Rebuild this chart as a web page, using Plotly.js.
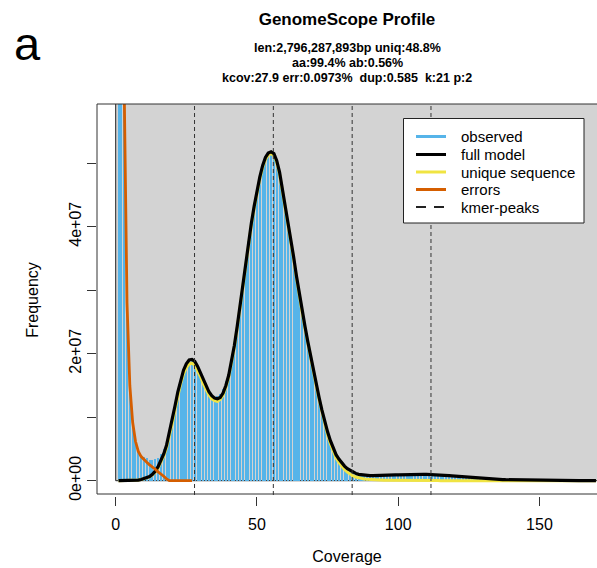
<!DOCTYPE html>
<html>
<head>
<meta charset="utf-8">
<script src="https://cdn.plot.ly/plotly-3.0.1.min.js"></script>
<style>html,body{margin:0;padding:0;background:#fff;}#chart{width:597px;height:568px;}</style>
</head>
<body>
<div id="chart"></div>
<script>
// ---------------- data (frequencies in millions of k-mers) ----------------
const coverage = [1,2,3,4,5,6,7,8,9,10,11,12,13,14,15,16,17,18,19,20,
21,22,23,24,25,26,27,28,29,30,31,32,33,34,35,36,37,38,39,40,
41,42,43,44,45,46,47,48,49,50,51,52,53,54,55,56,57,58,59,60,
61,62,63,64,65,66,67,68,69,70,71,72,73,74,75,76,77,78,79,80,
81,82,83,84,85,86,87,88,89,90,91,92,93,94,95,96,97,98,99,100,
101,102,103,104,105,106,107,108,109,110,111,112,113,114,115,116,117,118,119,120,
121,122,123,124,125,126,127,128,129,130,131,132,133,134,135,136,137,138,139,140,
141,142,143,144,145,146,147,148,149,150,151,152,153,154,155,156,157,158,159,160,
161,162,163,164,165,166,167,168,169,170];

const observed = [2000,220,66,29,15.5,9.5,6.5,4.9,4.1,3.7,3.5,3.2,3.3,3.4,3.6,4.2,5.0,6.0,7.6,9.6,
11.7,13.9,15.8,17.3,18.3,18.9,19.0,18.7,17.9,16.9,15.8,14.8,14.1,13.5,13.2,13.3,13.6,14.4,15.7,17.5,
19.4,21.7,24.4,27.5,30.9,34.3,37.7,40.7,43.3,45.8,47.9,49.7,50.9,51.6,51.8,51.4,50.4,48.7,46.1,43.4,
40.8,38.0,35.3,32.2,29.4,26.8,24.2,21.8,19.5,17.3,15.1,13.0,11.1,9.3,7.7,6.3,5.1,4.2,3.4,2.8,
2.3,1.9,1.6,1.35,1.15,1.0,0.92,0.86,0.82,0.80,0.79,0.79,0.80,0.81,0.83,0.85,0.87,0.89,0.91,0.93,
0.95,0.96,0.97,0.98,0.99,1.0,1.0,1.0,1.0,1.0,0.99,0.98,0.96,0.94,0.91,0.88,0.85,0.81,0.77,0.73,
0.69,0.65,0.61,0.57,0.53,0.49,0.45,0.42,0.38,0.35,0.32,0.29,0.27,0.24,0.22,0.20,0.18,0.16,0.15,0.13,
0.12,0.11,0.10,0.09,0.08,0.07,0.065,0.06,0.055,0.05,0.048,0.046,0.044,0.042,0.04,0.038,0.036,0.034,0.032,0.03,
0.029,0.028,0.027,0.026,0.025,0.024,0.023,0.022,0.021,0.02];

const fullModel = [0,0,0,0,0.01,0.02,0.05,0.1,0.18,0.3,0.45,0.65,1.0,1.5,2.2,3.1,4.2,5.6,7.5,9.6,
11.8,14.0,15.9,17.4,18.4,19.0,19.1,18.8,18.0,17.0,15.9,14.9,14.0,13.4,13.0,12.9,13.1,13.8,15.0,16.6,
18.7,21.3,24.3,27.6,31.0,34.5,37.8,40.5,43.2,45.6,47.8,49.6,50.9,51.6,51.8,51.5,50.4,48.6,46.0,43.4,
40.8,38.0,35.2,32.2,29.3,26.8,24.3,21.9,19.6,17.4,15.2,13.1,11.1,9.3,7.7,6.3,5.1,4.1,3.4,2.8,
2.3,1.9,1.6,1.35,1.15,1.0,0.92,0.86,0.82,0.80,0.79,0.79,0.80,0.81,0.83,0.85,0.87,0.89,0.91,0.93,
0.95,0.96,0.97,0.98,0.99,1.0,1.0,1.0,1.0,1.0,0.99,0.98,0.96,0.94,0.91,0.88,0.85,0.81,0.77,0.73,
0.69,0.65,0.61,0.57,0.53,0.49,0.45,0.42,0.38,0.35,0.32,0.29,0.27,0.24,0.22,0.20,0.18,0.16,0.15,0.13,
0.12,0.11,0.10,0.09,0.08,0.07,0.06,0.055,0.05,0.045,0.042,0.04,0.038,0.036,0.034,0.032,0.03,0.028,0.026,0.025,
0.024,0.023,0.022,0.021,0.02,0.019,0.018,0.017,0.016,0.015];

const uniqueSeq = [0,0,0,0,0.01,0.02,0.05,0.1,0.18,0.3,0.42,0.58,0.9,1.35,2.0,2.85,3.9,5.2,7.0,9.0,
11.2,13.4,15.3,16.8,17.8,18.4,18.5,18.2,17.4,16.4,15.3,14.3,13.5,12.9,12.6,12.5,12.8,13.5,14.7,16.3,
18.4,21.0,24.0,27.3,30.7,34.2,37.5,40.2,42.9,45.3,47.5,49.3,50.6,51.3,51.5,51.2,50.1,48.3,45.7,43.1,
40.5,37.7,34.9,31.9,29.0,26.5,24.0,21.6,19.3,17.1,14.9,12.8,10.8,8.9,7.2,5.8,4.6,3.6,2.9,2.3,
1.75,1.35,1.0,0.75,0.58,0.45,0.35,0.28,0.22,0.18,0.15,0.13,0.11,0.09,0.08,0.07,0.06,0.05,0.045,0.04,
0.036,0.033,0.03,0.027,0.025,0.023,0.021,0.019,0.017,0.016,0.015,0.014,0.013,0.012,0.011,0.01,0.009,0.008,0.008,0.007,
0.007,0.006,0.006,0.005,0.005,0.005,0.004,0.004,0.004,0.003,0.003,0.003,0.003,0.002,0.002,0.002,0.002,0.002,0.002,0.001,
0.001,0.001,0.001,0.001,0.001,0.001,0.001,0.001,0.001,0.001,0,0,0,0,0,0,0,0,0,0,
0,0,0,0,0,0,0,0,0,0];

const errorCoverage = [1,2,3,4,5,6,7,8,9,10,11,12,13,14,15,16,17,18,19,20,21,22,23,24,25,26,27];
const errors = [900,160,62,28,15,9.2,6.2,4.6,3.8,3.3,2.9,2.5,2.2,1.8,1.4,1.1,0.7,0.3,0,0,0,0,0,0,0,0,0];

const kmerPeaks = [27.9, 55.8, 83.7, 111.6];

const xTickVals = [0, 50, 100, 150];
const xTickText = ['0', '50', '100', '150'];
const yTickVals = [0, 1e7, 2e7, 3e7, 4e7, 5e7];
const yTickText = ['0e+00', '', '2e+07', '', '4e+07', ''];

const legendLabels = ['observed', 'full model', 'unique sequence', 'errors', 'kmer-peaks'];

const titleText = 'GenomeScope Profile';
const subtitleLines = ['len:2,796,287,893bp uniq:48.8%', 'aa:99.4% ab:0.56%', 'kcov:27.9 err:0.0973%\u00A0\u00A0dup:0.585\u00A0\u00A0k:21 p:2'];

// ---------------- styling ----------------
const MILLION = 1e6;
const C_HIST = '#56B4E9', C_MODEL = '#000000', C_UNIQUE = '#F0E442', C_ERR = '#D55E00', C_BG = '#D3D3D3';
const FONT = 'Liberation Sans, Arial, Helvetica, sans-serif';

const W = 597, H = 568;
const L = 97, R = 0, T = 104, B = 72;
const PW = W - L - R, PH = H - T - B;
const px = v => (v - L) / PW;          // pixel x -> paper
const py = v => (H - B - v) / PH;      // pixel y -> paper

const scale = arr => arr.map(v => v * MILLION);

const traces = [
  {type: 'bar', x: coverage, y: scale(observed), width: 0.72,
   marker: {color: C_HIST, line: {width: 0}}, showlegend: false, hoverinfo: 'skip'},
  {type: 'scatter', mode: 'lines', x: coverage, y: scale(uniqueSeq),
   line: {color: C_UNIQUE, width: 3}, showlegend: false, hoverinfo: 'skip'},
  {type: 'scatter', mode: 'lines', x: coverage, y: scale(fullModel),
   line: {color: C_MODEL, width: 3.2}, showlegend: false, hoverinfo: 'skip'},
  {type: 'scatter', mode: 'lines', x: errorCoverage, y: scale(errors),
   line: {color: C_ERR, width: 2.8}, showlegend: false, hoverinfo: 'skip'}
];

const shapes = [];
// grey background rectangle starting at (0,0)
shapes.push({type: 'rect', xref: 'x', yref: 'y', x0: 0, x1: 10000, y0: 0, y1: 1e10,
  fillcolor: C_BG, line: {color: '#222', width: 1}, layer: 'below'});
// kmer peak dashed lines
kmerPeaks.forEach(p => shapes.push({type: 'line', xref: 'x', yref: 'paper', x0: p, x1: p,
  y0: py(495), y1: 1, line: {color: '#333', width: 1, dash: '4px,3px'}, layer: 'above'}));
// box (left, top, bottom)
const boxColor = '#333';
shapes.push({type: 'line', xref: 'paper', yref: 'paper', x0: 0, x1: 0, y0: py(494), y1: 1, line: {color: boxColor, width: 1}});
shapes.push({type: 'line', xref: 'paper', yref: 'paper', x0: 0, x1: 1.01, y0: 1, y1: 1, line: {color: boxColor, width: 1}});
shapes.push({type: 'line', xref: 'paper', yref: 'paper', x0: 0, x1: 1.01, y0: py(494), y1: py(494), line: {color: boxColor, width: 1}});

// legend box
shapes.push({type: 'rect', xref: 'paper', yref: 'paper', x0: px(403.5), x1: px(584), y0: py(118.5), y1: py(223),
  fillcolor: '#ffffff', line: {color: '#222', width: 1}, layer: 'above'});
const legendY = [136.5, 154.5, 172, 189.5, 207];
const legendColors = [C_HIST, C_MODEL, C_UNIQUE, C_ERR, '#222'];
const annotations = [];
legendLabels.forEach((lab, i) => {
  shapes.push({type: 'line', xref: 'paper', yref: 'paper', x0: px(416), x1: px(446),
    y0: py(legendY[i]), y1: py(legendY[i]),
    line: {color: legendColors[i], width: i === 4 ? 2.2 : 3, dash: i === 4 ? '10px,8px' : 'solid'}, layer: 'above'});
  annotations.push({xref: 'paper', yref: 'paper', x: px(459), y: py(legendY[i]), xanchor: 'left', yanchor: 'middle',
    text: lab, showarrow: false, font: {family: FONT, size: 15, color: '#000'}});
});

// subtitle lines
const subY = [48, 63, 78];
subtitleLines.forEach((s, i) => annotations.push({xref: 'paper', yref: 'paper', x: px(347), y: py(subY[i]),
  xanchor: 'center', yanchor: 'middle', text: '<b>' + s + '</b>', showarrow: false,
  font: {family: FONT, size: 12.5, color: '#000'}}));
// panel letter
annotations.push({xref: 'paper', yref: 'paper', x: px(27), y: py(44), xanchor: 'center', yanchor: 'middle',
  text: 'a', showarrow: false, font: {family: FONT, size: 47, color: '#000'}});

const layout = {
  width: W, height: H,
  margin: {l: L, r: R, t: T, b: B, pad: 0},
  paper_bgcolor: '#ffffff', plot_bgcolor: '#ffffff',
  showlegend: false,
  title: {text: '<b>' + titleText + '</b>', x: 347 / W, xanchor: 'center', xref: 'container',
    y: 1 - 19 / H, yanchor: 'middle', yref: 'container', font: {family: FONT, size: 17, color: '#000'}},
  xaxis: {range: [-6.62, 170.37], showgrid: false, zeroline: false, showline: false,
    tickmode: 'array', tickvals: xTickVals, ticktext: xTickText,
    ticks: 'outside', ticklen: 9, tickwidth: 1, tickcolor: '#333', ticklabelstandoff: 5,
    tickfont: {family: FONT, size: 16, color: '#000'},
    title: {text: 'Coverage', font: {family: FONT, size: 16, color: '#000'}, standoff: 18}},
  yaxis: {range: [-2.41e6, 59.32e6], showgrid: false, zeroline: false, showline: false,
    tickmode: 'array', tickvals: yTickVals, ticktext: yTickText, tickangle: -90,
    ticks: 'outside', ticklen: 9, tickwidth: 1, tickcolor: '#333',
    tickfont: {family: FONT, size: 16, color: '#000'},
    title: {text: 'Frequency', font: {family: FONT, size: 16, color: '#000'}, standoff: 23}},
  shapes: shapes,
  annotations: annotations,
  bargap: 0
};

Plotly.newPlot('chart', traces, layout, {staticPlot: true, displayModeBar: false});
</script>
</body>
</html>
